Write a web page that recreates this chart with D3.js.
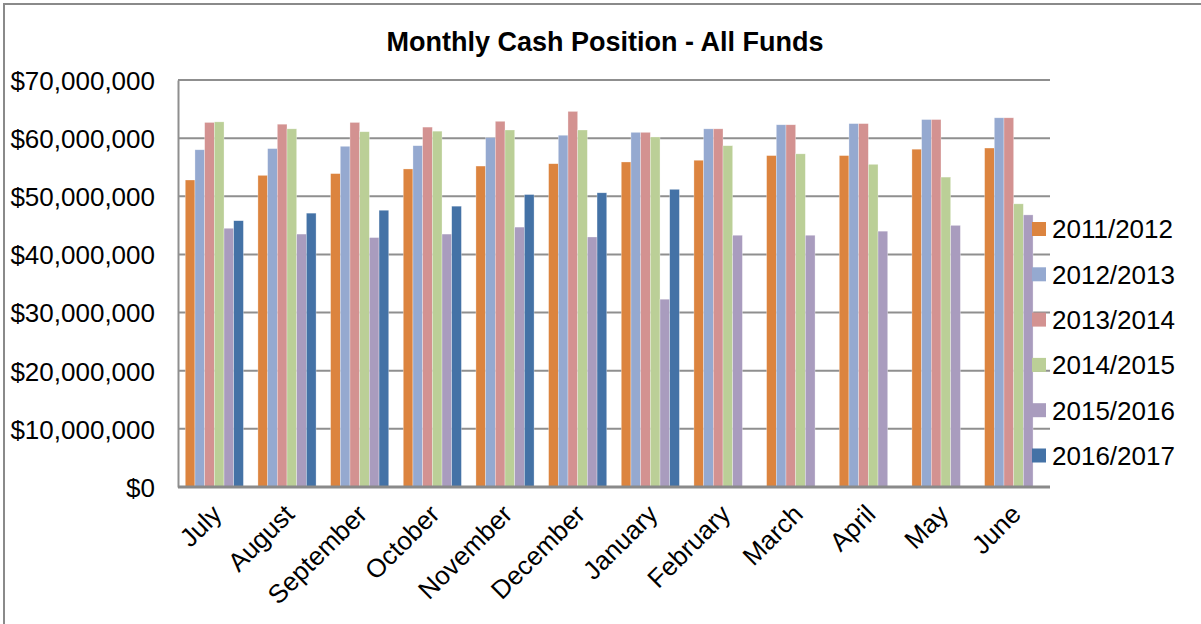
<!DOCTYPE html>
<html>
<head>
<meta charset="utf-8">
<script src="https://cdn.jsdelivr.net/npm/d3@7"></script>
<style>
  body { margin: 0; background: #fff; }
  text { font-family: "Liberation Sans", Arial, sans-serif; fill: #000; }
</style>
</head>
<body>
<div id="chart"></div>
<script>
var months = ["July", "August", "September", "October", "November", "December",
              "January", "February", "March", "April", "May", "June"];
var years = ["2011/2012", "2012/2013", "2013/2014", "2014/2015", "2015/2016", "2016/2017"];
var colors = ["#DC843F", "#95A9D0", "#D39291", "#BBCF97", "#A99CBE", "#4472A6"];

// values in millions of dollars
var fy2011 = [52.8, 53.6, 53.9, 54.7, 55.2, 55.6, 55.9, 56.2, 57.0, 57.0, 58.1, 58.3];
var fy2012 = [58.0, 58.2, 58.6, 58.7, 60.1, 60.5, 61.0, 61.6, 62.3, 62.5, 63.2, 63.5];
var fy2013 = [62.7, 62.4, 62.7, 61.9, 62.9, 64.6, 61.0, 61.6, 62.3, 62.5, 63.2, 63.5];
var fy2014 = [62.8, 61.6, 61.1, 61.2, 61.4, 61.4, 60.2, 58.7, 57.3, 55.5, 53.3, 48.7];
var fy2015 = [44.5, 43.5, 42.9, 43.5, 44.7, 43.0, 32.3, 43.3, 43.3, 44.0, 45.0, 46.8];
var fy2016 = [45.8, 47.1, 47.6, 48.3, 50.3, 50.6, 51.2, null, null, null, null, null];
var series = [fy2011, fy2012, fy2013, fy2014, fy2015, fy2016];
var yTicks = [0, 10, 20, 30, 40, 50, 60, 70];

var svgWidth = 1201;
var svgHeight = 624;
var margin = { top: 80, right: 151, bottom: 137, left: 178 };
var width = svgWidth - margin.left - margin.right;
var height = svgHeight - margin.top - margin.bottom;

var svg = d3.select("#chart")
    .append("svg")
    .attr("width", svgWidth)
    .attr("height", svgHeight);

// outer chart border (only left and top are visible)
svg.append("path")
    .attr("d", "M4," + svgHeight + "V4H" + svgWidth)
    .attr("fill", "none")
    .attr("stroke", "#8a8a8a")
    .attr("stroke-width", 2);

svg.append("text")
    .attr("x", 605)
    .attr("y", 51)
    .attr("text-anchor", "middle")
    .style("font-size", "27px")
    .style("font-weight", "bold")
    .text("Monthly Cash Position - All Funds");

var chartGroup = svg.append("g")
    .attr("transform", `translate(${margin.left}, ${margin.top})`);

var x0 = d3.scaleBand()
    .domain(months)
    .range([0, width])
    .paddingInner(0.2)
    .paddingOuter(0.1);

var x1 = d3.scaleBand()
    .domain(d3.range(series.length))
    .range([0, x0.bandwidth()]);

var y = d3.scaleLinear()
    .domain([0, 70])
    .range([height, 0]);

// gridlines
chartGroup.append("g")
    .selectAll("line")
    .data(yTicks.slice(1))
    .enter()
    .append("line")
    .attr("x1", 0)
    .attr("x2", width)
    .attr("y1", d => y(d))
    .attr("y2", d => y(d))
    .attr("stroke", "#8f8f8f")
    .attr("stroke-width", 2);

var leftAxis = d3.axisLeft(y)
    .tickValues(yTicks)
    .tickSize(0)
    .tickPadding(23)
    .tickFormat(d => "$" + d3.format(",")(d * 1000000));

var yAxis = chartGroup.append("g").call(leftAxis);
yAxis.select(".domain").attr("stroke", "#8f8f8f").attr("stroke-width", 2);
yAxis.selectAll("text")
    .style("font-size", "26px")
    .attr("dy", "0.36em");

// bars
var groups = chartGroup.selectAll(".month")
    .data(months)
    .enter()
    .append("g")
    .attr("transform", d => `translate(${x0(d)}, 0)`);

groups.selectAll("rect")
    .data((m, i) => series.map((s, k) => ({ k: k, v: s[i] })).filter(d => d.v != null))
    .enter()
    .append("rect")
    .attr("x", d => x1(d.k))
    .attr("y", d => y(d.v))
    .attr("width", x1.bandwidth())
    .attr("height", d => height - y(d.v))
    .attr("fill", d => colors[d.k])
    .attr("stroke", "#ffffff")
    .attr("stroke-opacity", 0.5)
    .attr("stroke-width", 0.6);

// baseline
chartGroup.append("line")
    .attr("x1", 0)
    .attr("x2", width)
    .attr("y1", height)
    .attr("y2", height)
    .attr("stroke", "#8a8a8a")
    .attr("stroke-width", 3);

// x labels
chartGroup.append("g")
    .selectAll("text")
    .data(months)
    .enter()
    .append("text")
    .attr("text-anchor", "end")
    .attr("transform", d => `translate(${x0(d) + x0.bandwidth() / 2 - 4}, ${height + 16}) rotate(-45)`)
    .attr("dy", "0.7em")
    .style("font-size", "26px")
    .text(d => d);

// legend
var legend = svg.append("g")
    .selectAll("g")
    .data(years)
    .enter()
    .append("g")
    .attr("transform", (d, i) => `translate(1032, ${229 + i * 45.3})`);

legend.append("rect")
    .attr("x", 0)
    .attr("y", -7)
    .attr("width", 14)
    .attr("height", 14)
    .attr("fill", (d, i) => colors[i]);

legend.append("text")
    .attr("x", 20)
    .attr("dy", "0.36em")
    .style("font-size", "26px")
    .text(d => d);
</script>
</body>
</html>
